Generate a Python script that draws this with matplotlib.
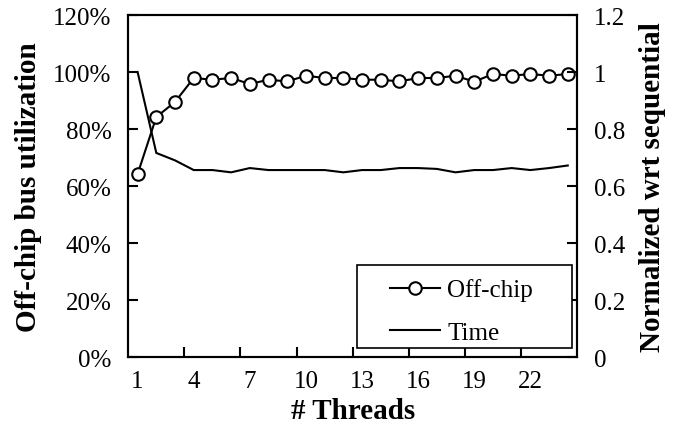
import matplotlib.pyplot as plt
from matplotlib import font_manager
from matplotlib.patches import Rectangle
import numpy as np

names = sorted({f.name for f in font_manager.fontManager.ttflist})
serif = [n for n in ['Liberation Serif', 'Times New Roman', 'Nimbus Roman', 'DejaVu Serif'] if n in names]
plt.rcParams['font.family'] = 'serif'
plt.rcParams['font.serif'] = serif

# data
threads = np.arange(1, 25)
offchip = [64.2, 84.2, 89.5, 97.9, 97.3, 97.9, 95.8, 97.3, 96.7, 98.7, 97.9, 97.9,
           97.3, 97.3, 96.7, 97.9, 97.9, 98.7, 96.6, 99.3, 98.7, 99.3, 98.7, 99.3]
time_norm = [1.0, 0.716, 0.69, 0.656, 0.656, 0.648, 0.663, 0.656, 0.656, 0.656, 0.656, 0.648,
             0.656, 0.656, 0.663, 0.663, 0.66, 0.648, 0.656, 0.656, 0.663, 0.656, 0.663, 0.672]
xlabels = [1, 4, 7, 10, 13, 16, 19, 22]

fig = plt.figure(figsize=(6.75, 4.39), dpi=100)
ax = fig.add_axes([0.19, 0.1845, 0.665, 0.779])
ax2 = ax.twinx()

l1, = ax.plot(threads, offchip, color='black', lw=1.5, marker='o', ms=9,
              mfc='white', mec='black', mew=1.5, label='Off-chip', zorder=3)
l2, = ax2.plot(threads, time_norm, color='black', lw=1.5, label='Time')

ax.set_xlim(0.5, 24.5)
ax.set_ylim(0, 120)
ax2.set_ylim(0, 1.2)

ax.set_yticks(np.arange(0, 121, 20))
ax.set_yticklabels([f'{v}%' for v in range(0, 121, 20)])
ax2.set_yticks(np.arange(0, 1.21, 0.2))
ax2.set_yticklabels(['0', '0.2', '0.4', '0.6', '0.8', '1', '1.2'])

ax.set_xticks(xlabels)
ax.set_xticks(np.arange(3.5, 24, 3), minor=True)
ax.tick_params(axis='x', which='major', length=0, labelsize=18, pad=9)
ax.tick_params(axis='x', which='minor', direction='in', length=7, width=1.5)
ax.tick_params(axis='y', direction='in', length=7, width=1.5, labelsize=18, pad=12)
ax2.tick_params(axis='y', direction='in', length=7, width=1.5, labelsize=18, pad=12)

for a in (ax, ax2):
    for s in a.spines.values():
        s.set_linewidth(1.5)

ax.set_xlabel('# Threads', fontsize=21, fontweight='bold', labelpad=4)
ax.set_ylabel('Off-chip bus utilization', fontsize=21, fontweight='bold', labelpad=8)
ax2.set_ylabel('Normalized wrt sequential', fontsize=21, fontweight='bold', labelpad=10)

# legend box (Excel style, wide frame)
box = Rectangle((0.51, 0.026), 0.479, 0.243, transform=ax2.transAxes,
                facecolor='white', edgecolor='black', lw=1.2, zorder=4)
ax2.add_patch(box)
leg = ax2.legend(handles=[l1, l2], loc='upper left', bbox_to_anchor=(0.583, 0.23),
                 fontsize=18, frameon=False, handlelength=2.0, borderaxespad=0,
                 handletextpad=0.3, borderpad=0, labelspacing=0.8)
leg.set_zorder(5)

fig.savefig('out.png', dpi=100)
